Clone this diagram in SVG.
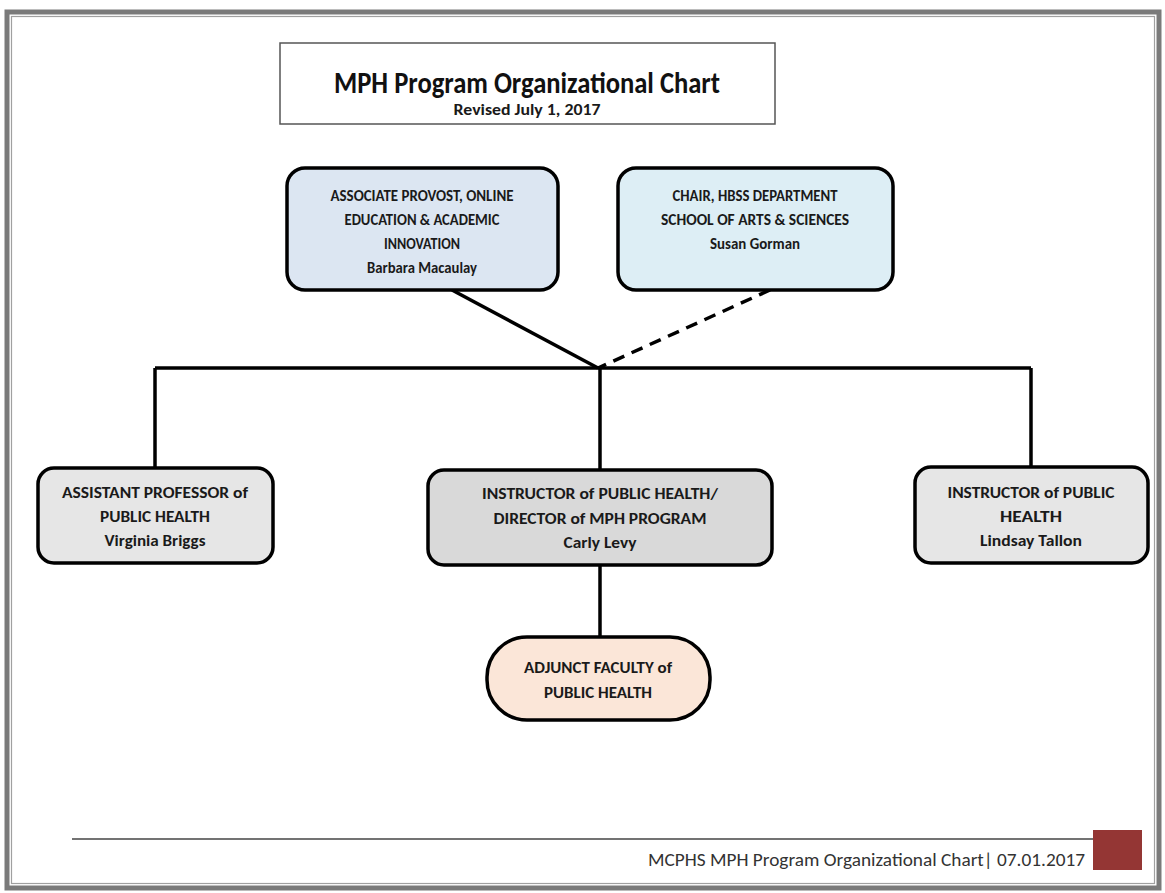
<svg xmlns="http://www.w3.org/2000/svg" width="1165" height="893" viewBox="0 0 1165 893">
<style>
.box{stroke:#000;stroke-width:3.5}
.t{font-family:Carlito,Calibri,"Liberation Sans",sans-serif;font-weight:bold;font-size:16.5px;fill:#1a1a1a;text-anchor:middle}
.c{stroke:#000;stroke-width:3.5;fill:none}
</style>
<rect width="1165" height="893" fill="#fff"/>
<g id="frame">
<rect x="7" y="12" width="1152" height="876" fill="none" stroke="#7a7a7a" stroke-width="5"/>
<rect x="11.5" y="16.5" width="1143" height="867" fill="none" stroke="#a0a0a0" stroke-width="1.2"/>
</g>
<g id="title">
<rect x="280" y="43" width="495" height="81" fill="#fff" stroke="#555" stroke-width="1.5"/>
<text x="527" y="93" font-family="Carlito,Calibri,'Liberation Sans',sans-serif" font-weight="bold" font-size="31" text-anchor="middle" fill="#111" textLength="386" lengthAdjust="spacingAndGlyphs">MPH Program Organizational Chart</text>
<text x="527" y="115" class="t" style="font-size:15px" textLength="147" lengthAdjust="spacingAndGlyphs">Revised July 1, 2017</text>
</g>
<g id="connectors">
<line class="c" x1="452" y1="290" x2="598" y2="368"/>
<line class="c" x1="770" y1="290" x2="598" y2="368" stroke-dasharray="12,8"/>
<line class="c" x1="155" y1="368" x2="1031" y2="368"/>
<line class="c" x1="155" y1="368" x2="155" y2="468"/>
<line class="c" x1="600" y1="368" x2="600" y2="470"/>
<line class="c" x1="1031" y1="368" x2="1031" y2="467"/>
<line class="c" x1="600" y1="565" x2="600" y2="637"/>
</g>
<g id="associate-provost">
<rect class="box" x="287" y="168" width="271" height="122" rx="18" fill="#dce6f2"/>
<text class="t" x="422" y="201" textLength="183" lengthAdjust="spacingAndGlyphs">ASSOCIATE PROVOST, ONLINE</text>
<text class="t" x="422" y="225" textLength="155" lengthAdjust="spacingAndGlyphs">EDUCATION &amp; ACADEMIC</text>
<text class="t" x="422" y="249" textLength="76" lengthAdjust="spacingAndGlyphs">INNOVATION</text>
<text class="t" x="422" y="273" textLength="110" lengthAdjust="spacingAndGlyphs">Barbara Macaulay</text>
</g>
<g id="chair-hbss">
<rect class="box" x="618" y="168" width="275" height="122" rx="18" fill="#ddeef5"/>
<text class="t" x="755" y="201" textLength="165" lengthAdjust="spacingAndGlyphs">CHAIR, HBSS DEPARTMENT</text>
<text class="t" x="755" y="225" textLength="188" lengthAdjust="spacingAndGlyphs">SCHOOL OF ARTS &amp; SCIENCES</text>
<text class="t" x="755" y="249" textLength="90" lengthAdjust="spacingAndGlyphs">Susan Gorman</text>
</g>
<g id="assistant-professor">
<rect class="box" x="38" y="468" width="235" height="95" rx="16" fill="#e6e6e6"/>
<text class="t" x="155" y="498" textLength="186" lengthAdjust="spacingAndGlyphs">ASSISTANT PROFESSOR of</text>
<text class="t" x="155" y="522" textLength="110" lengthAdjust="spacingAndGlyphs">PUBLIC HEALTH</text>
<text class="t" x="155" y="546" textLength="101" lengthAdjust="spacingAndGlyphs">Virginia Briggs</text>
</g>
<g id="director">
<rect class="box" x="428" y="470" width="344" height="95" rx="16" fill="#d9d9d9"/>
<text class="t" x="600" y="499" textLength="236" lengthAdjust="spacingAndGlyphs">INSTRUCTOR of PUBLIC HEALTH/</text>
<text class="t" x="600" y="524" textLength="213" lengthAdjust="spacingAndGlyphs">DIRECTOR of MPH PROGRAM</text>
<text class="t" x="600" y="548" textLength="73" lengthAdjust="spacingAndGlyphs">Carly Levy</text>
</g>
<g id="instructor">
<rect class="box" x="915" y="467" width="233" height="96" rx="16" fill="#e6e6e6"/>
<text class="t" x="1031" y="498" textLength="167" lengthAdjust="spacingAndGlyphs">INSTRUCTOR of PUBLIC</text>
<text class="t" x="1031" y="522" textLength="62" lengthAdjust="spacingAndGlyphs">HEALTH</text>
<text class="t" x="1031" y="546" textLength="102" lengthAdjust="spacingAndGlyphs">Lindsay Tallon</text>
</g>
<g id="adjunct">
<rect class="box" x="487" y="637" width="223" height="83" rx="40" fill="#fbe6d8"/>
<text class="t" x="598" y="673" textLength="148" lengthAdjust="spacingAndGlyphs">ADJUNCT FACULTY of</text>
<text class="t" x="598" y="698" textLength="108" lengthAdjust="spacingAndGlyphs">PUBLIC HEALTH</text>
</g>
<g id="footer">
<line x1="72" y1="839" x2="1093" y2="839" stroke="#444" stroke-width="1.5"/>
<text x="1085" y="866" font-family="Carlito,Calibri,'Liberation Sans',sans-serif" font-size="18.5" fill="#333" text-anchor="end" textLength="437" lengthAdjust="spacingAndGlyphs">MCPHS MPH Program Organizational Chart| 07.01.2017</text>
<rect x="1093" y="830" width="49" height="40" fill="#943634"/>
</g>
</svg>
